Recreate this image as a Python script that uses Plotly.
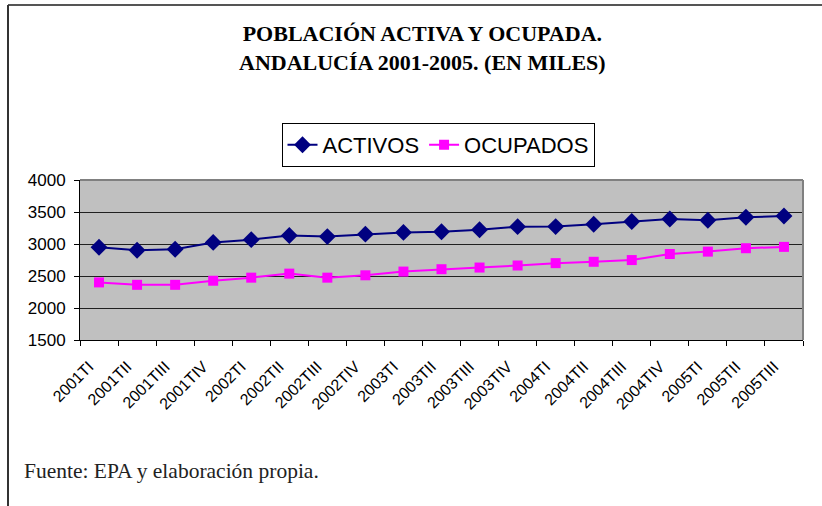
import plotly.graph_objects as go

trimestres = ["2001TI", "2001TII", "2001TIII", "2001TIV",
              "2002TI", "2002TII", "2002TIII", "2002TIV",
              "2003TI", "2003TII", "2003TIII", "2003TIV",
              "2004TI", "2004TII", "2004TIII", "2004TIV",
              "2005TI", "2005TII", "2005TIII"]
activos = [2950, 2902, 2917, 3025, 3068, 3132, 3116, 3154, 3181,
           3191, 3223, 3271, 3272, 3309, 3352, 3390, 3370, 3417, 3438]
ocupados = [2400, 2362, 2362, 2426, 2474, 2537, 2474, 2511, 2569,
            2606, 2632, 2664, 2701, 2722, 2749, 2844, 2881, 2934, 2955]

titulo = "POBLACIÓN ACTIVA Y OCUPADA.<br>ANDALUCÍA 2001-2005. (EN MILES)"
fuente = "Fuente: EPA y elaboración propia."

# plot area in pixels: x 80..803, y 180..340
W, H = 822, 506
L, R, T, B = 80, 803, 180, 340


def px(x):
    return (x - L) / (R - L)


def py(y):
    return (B - y) / (B - T)


fig = go.Figure()
fig.add_trace(go.Scatter(x=trimestres, y=activos, name="ACTIVOS", mode="lines+markers",
                         line=dict(color="#000080", width=2),
                         marker=dict(symbol="diamond", size=13, color="#000080")))
fig.add_trace(go.Scatter(x=trimestres, y=ocupados, name="OCUPADOS", mode="lines+markers",
                         line=dict(color="#FF00FF", width=2),
                         marker=dict(symbol="square", size=10, color="#FF00FF")))

fig.update_layout(
    width=W, height=H,
    margin=dict(l=L, r=W - R, t=T, b=H - B),
    paper_bgcolor="white", plot_bgcolor="#C0C0C0",
    font=dict(family="Liberation Sans, Arial", color="black"),
    showlegend=True,
    legend=dict(orientation="h", x=px(438), xanchor="center", y=py(123), yanchor="top",
                bordercolor="black", borderwidth=1, bgcolor="white",
                font=dict(size=22, family="Liberation Sans, Arial"),
                itemclick=False),
    xaxis=dict(type="category", range=[-0.5, 18.5], tickangle=-45, tickson="boundaries",
               ticks="outside", ticklen=5, tickcolor="black", showgrid=False,
               showline=True, linecolor="black", linewidth=1,
               ticklabelshift=-10, ticklabelstandoff=10,
               tickfont=dict(size=16)),
    yaxis=dict(range=[1500, 4000], dtick=500, ticks="outside", ticklen=5, tickcolor="black",
               showgrid=True, gridcolor="#202020", gridwidth=1,
               showline=True, linecolor="black", linewidth=1,
               ticklabelstandoff=5,
               tickfont=dict(size=17), zeroline=False),
    annotations=[
        dict(text="<b>" + titulo + "</b>", xref="paper", yref="paper",
             x=px(422), y=py(48), xanchor="center", yanchor="middle", showarrow=False,
             font=dict(family="Liberation Serif, Times New Roman", size=22, color="#000")),
        dict(text=fuente, xref="paper", yref="paper",
             x=px(22), y=py(471), xanchor="left", yanchor="middle", showarrow=False,
             font=dict(family="Liberation Serif, Times New Roman", size=21.5, color="#222")),
    ],
    shapes=[
        # outer frame (top and left)
        dict(type="line", xref="paper", yref="paper", x0=px(8), x1=px(822), y0=py(5), y1=py(5),
             line=dict(color="#555", width=2)),
        dict(type="line", xref="paper", yref="paper", x0=px(8), x1=px(8), y0=py(5), y1=py(506),
             line=dict(color="#333", width=2)),
        # plot area border top/right
        dict(type="line", xref="paper", yref="paper", x0=0, x1=1, y0=1, y1=1,
             line=dict(color="#808080", width=2)),
        dict(type="line", xref="paper", yref="paper", x0=1, x1=1, y0=0, y1=1,
             line=dict(color="#808080", width=2)),
    ],
)

# the page has a default 8px body margin; remove it so pixel positions match
fig.write_html("out.html", config={"displayModeBar": False},
               post_script="document.body.style.margin='0';")
